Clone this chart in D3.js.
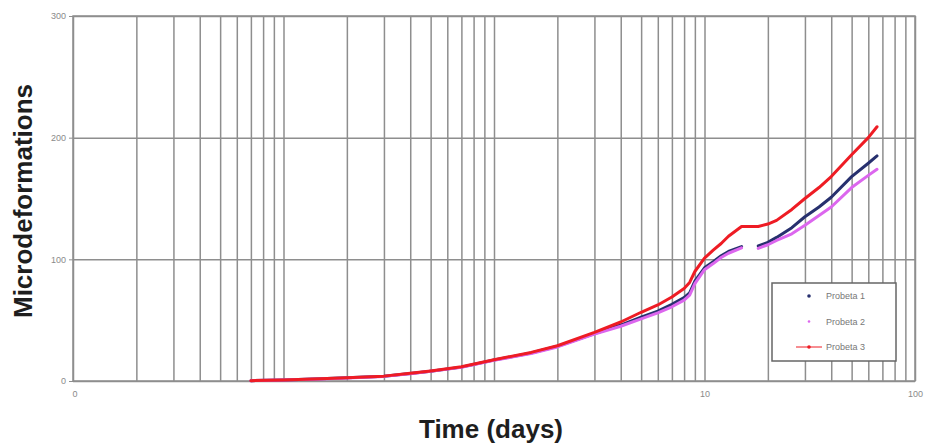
<!DOCTYPE html>
<html>
<head>
<meta charset="utf-8">
<script src="https://cdn.jsdelivr.net/npm/d3@7"></script>
<style>
  html, body { margin: 0; padding: 0; background: #fff; }
  svg { display: block; }
</style>
</head>
<body>
<svg id="chart" width="925" height="443"></svg>
<script>
// ---- data ----
const days = [0.07, 0.1, 0.15, 0.2, 0.3, 0.4, 0.5, 0.7, 1, 1.5, 2, 3, 4, 5, 6, 7, 8, 8.5, 9, 10, 11, 12, 13, 15, 16.5, 18, 20, 22, 26, 30, 35, 40, 50, 60, 66];
const probeta1 = [0.3, 0.8, 1.8, 2.6, 3.9, 6.2, 8.1, 11.4, 17.2, 23, 28.5, 39, 46, 52.5, 57.5, 63, 68.5, 72.5, 82, 93, 98, 103, 106.5, 110.5, null, 111, 114, 118, 126, 135, 143, 151, 168, 179, 185];
const probeta2 = [0.3, 0.8, 1.7, 2.5, 3.8, 6.0, 8.0, 11.2, 17, 22.5, 28, 38.5, 45, 51, 56, 61, 66.5, 70.5, 80, 91.5, 96.5, 101.5, 105, 109.5, null, 109, 112, 115.5, 121, 128, 136, 143, 159, 169, 174];
const probeta3 = [0.3, 0.8, 1.8, 2.7, 4.0, 6.3, 8.3, 11.7, 17.5, 23.5, 29, 40, 48.5, 56.5, 62.5, 69, 76, 81, 90, 101, 107.5, 113, 119, 127, 127, 127, 129, 132, 141, 150, 159, 168, 186, 200, 209];
const seriesNames = ["Probeta 1", "Probeta 2", "Probeta 3"];
const seriesColors = ["#27306e", "#dc66ee", "#ee1c24"];
const xTickValues = [0.01, 10, 100];
const xTickLabels = ["0", "10", "100"];
const yTickValues = [0, 100, 200, 300];
const xTitle = "Time (days)";
const yTitle = "Microdeformations";

// ---- layout ----
const svg = d3.select("#chart");
const mLeft = 73, mRight = 915, mTop = 16, mBottom = 381;
const x = d3.scaleLog().domain([0.01, 100]).range([mLeft, mRight]);
const y = d3.scaleLinear().domain([0, 300]).range([mBottom, mTop]);
const gridColor = "#8e8e8e";

// vertical grid (log minor + major)
const gx = svg.append("g").attr("transform", `translate(0,${mBottom})`)
  .call(d3.axisBottom(x).tickValues(x.ticks()).tickSize(-(mBottom - mTop)).tickFormat(""));
gx.select(".domain").remove();
gx.selectAll("line").attr("stroke", gridColor).attr("stroke-width", 1.5);

// horizontal grid
const gy = svg.append("g").attr("transform", `translate(${mLeft},0)`)
  .call(d3.axisLeft(y).tickValues(yTickValues).tickSize(-(mRight - mLeft)).tickFormat(""));
gy.select(".domain").remove();
gy.selectAll("line").attr("stroke", gridColor).attr("stroke-width", 1.5);

// plot border
svg.append("rect").attr("x", mLeft).attr("y", mTop)
  .attr("width", mRight - mLeft).attr("height", mBottom - mTop)
  .attr("fill", "none").attr("stroke", gridColor).attr("stroke-width", 1.5);

// y axis ticks + labels
const ay = svg.append("g").attr("transform", `translate(${mLeft},0)`)
  .call(d3.axisLeft(y).tickValues(yTickValues).tickSize(4).tickPadding(3));
ay.select(".domain").attr("stroke", gridColor);
ay.selectAll("line").attr("stroke", gridColor);
ay.selectAll("text").attr("fill", "#8a8a8a").style("font-family", "Liberation Sans, Arial, sans-serif").style("font-size", "9px");

// x axis labels
const ax = svg.append("g").attr("transform", `translate(0,${mBottom})`)
  .call(d3.axisBottom(x).tickValues(xTickValues).tickSize(0).tickPadding(10)
    .tickFormat((d, i) => xTickLabels[i]));
ax.select(".domain").remove();
ax.selectAll("text").attr("fill", "#8a8a8a").style("font-family", "Liberation Sans, Arial, sans-serif").style("font-size", "9px");
ax.selectAll(".tick").filter(d => d === 0.01).attr("transform", `translate(${x(0.01) + 2},0)`);

// series
const allSeries = [probeta1, probeta2, probeta3];
const line = d3.line()
  .defined(d => d[1] !== null)
  .x(d => x(d[0])).y(d => y(d[1]));
allSeries.forEach((vals, i) => {
  const pts = days.map((d, j) => [d, vals[j]]);
  svg.append("path").datum(pts)
    .attr("fill", "none").attr("stroke", seriesColors[i])
    .attr("stroke-width", 3)
    .attr("stroke-linejoin", "round").attr("stroke-linecap", "round")
    .attr("d", line);
});

// legend
const lg = svg.append("g");
lg.append("rect").attr("x", 772).attr("y", 283).attr("width", 124).attr("height", 78)
  .attr("fill", "#fff").attr("stroke", "#666").attr("stroke-width", 1.5);
seriesNames.forEach((name, i) => {
  const ly = 296 + i * 25.5;
  if (i === 2) {
    lg.append("line").attr("x1", 796).attr("x2", 822).attr("y1", ly).attr("y2", ly)
      .attr("stroke", seriesColors[i]).attr("stroke-width", 1);
  }
  lg.append("circle").attr("cx", 809).attr("cy", ly).attr("r", i === 1 ? 1.3 : 1.8)
    .attr("fill", seriesColors[i]);
  lg.append("text").attr("x", 826).attr("y", ly).attr("dy", "0.35em")
    .attr("fill", "#777").style("font-family", "Liberation Sans, Arial, sans-serif")
    .style("font-size", "9px").text(name);
});

// titles
svg.append("text").attr("x", 491).attr("y", 438).attr("text-anchor", "middle")
  .attr("fill", "#1e1e1e").style("font-family", "Liberation Sans, Arial, sans-serif")
  .style("font-weight", "bold").style("font-size", "26px").text(xTitle);
svg.append("text").attr("transform", "translate(32,201) rotate(-90)").attr("text-anchor", "middle")
  .attr("fill", "#1e1e1e").style("font-family", "Liberation Sans, Arial, sans-serif")
  .style("font-weight", "bold").style("font-size", "26px").text(yTitle);
</script>
</body>
</html>
